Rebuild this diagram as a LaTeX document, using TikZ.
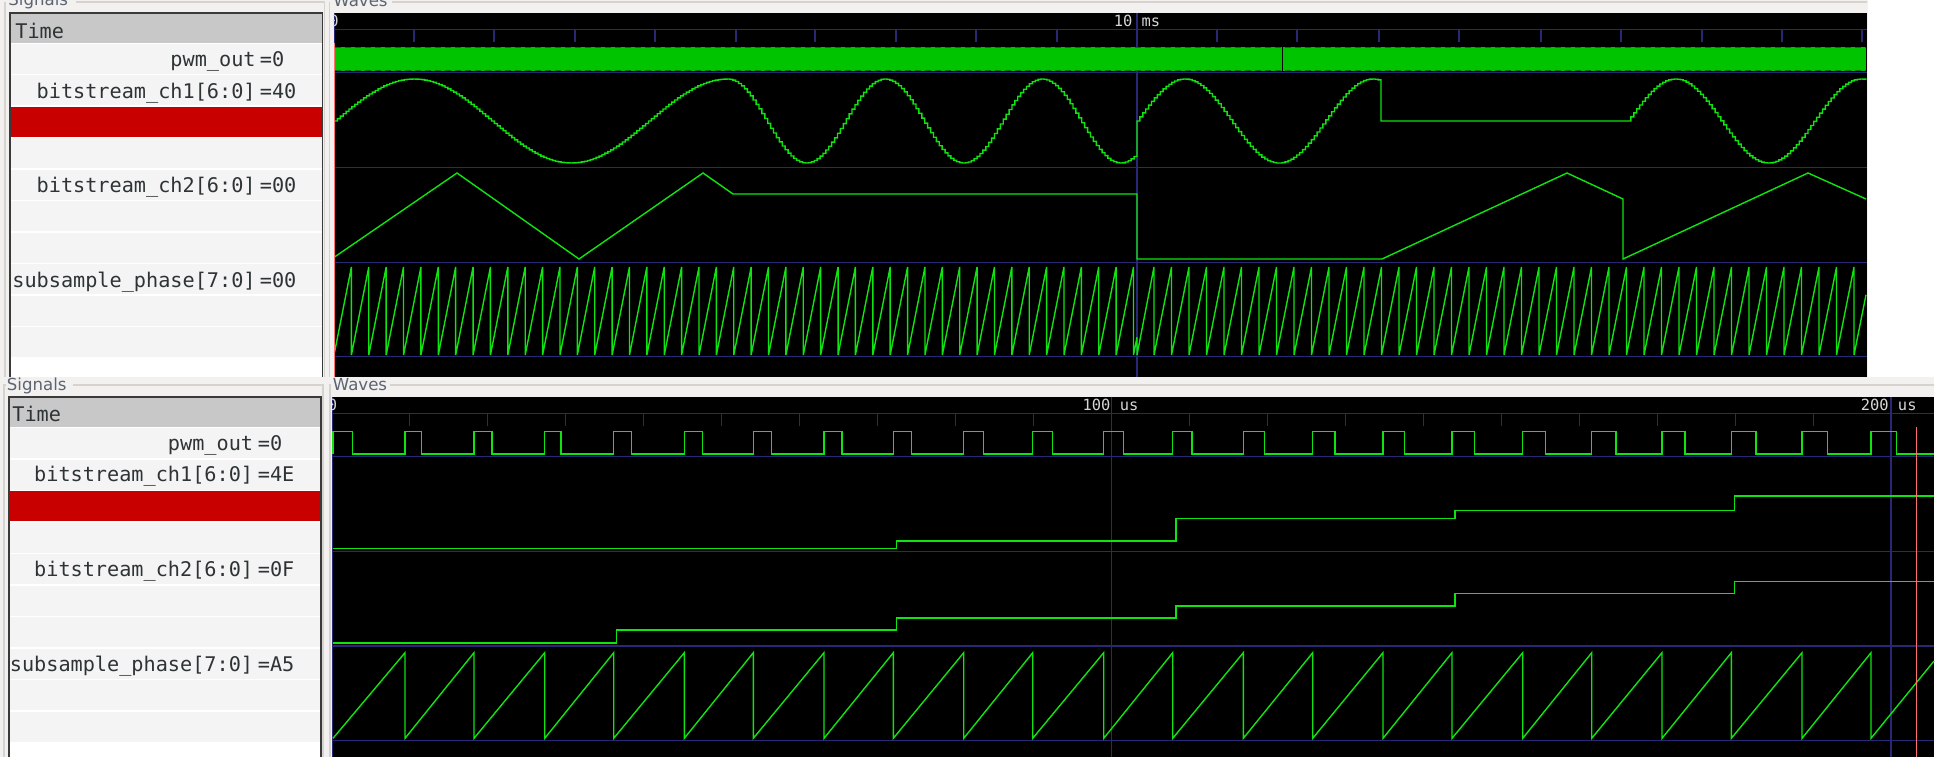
\documentclass[tikz,border=0pt]{standalone}
\usepackage{fontspec}
\newfontfamily\monof{DejaVu Sans Mono}
\newfontfamily\sansf{DejaVu Sans}
\definecolor{gtkbg}{RGB}{242,241,240}
\definecolor{frameline}{RGB}{214,210,206}
\definecolor{listrow}{RGB}{244,244,244}
\definecolor{listhead}{RGB}{200,200,200}
\definecolor{listborder}{RGB}{58,58,58}
\definecolor{selred}{RGB}{200,0,0}
\definecolor{txt}{RGB}{46,52,54}
\definecolor{hdrcol}{RGB}{92,100,114}
\definecolor{gridc}{RGB}{40,40,118}
\definecolor{tracec}{RGB}{16,228,16}
\definecolor{pwmfill}{RGB}{0,196,0}
\definecolor{pwmedge}{RGB}{0,120,0}
\definecolor{markerc}{RGB}{255,112,112}
\definecolor{timec}{RGB}{214,214,214}
\begin{document}
\begin{tikzpicture}[x=0.5pt,y=-0.5pt,
  sigtxt/.style={font=\monof\fontsize{10.1}{12}\selectfont, text=txt, inner sep=0pt},
  timetxt/.style={font=\monof\fontsize{7.7}{9}\selectfont, text=timec, inner sep=0pt},
  hdr/.style={font=\sansf\fontsize{8.3}{10}\selectfont, text=hdrcol, inner sep=0pt},
  gridline/.style={draw=gridc, line width=0.55pt},
  frm/.style={draw=frameline, line width=0.6pt},
  trace/.style={draw=tracec, line width=0.7pt, line join=miter},
  markerline/.style={draw=markerc, line width=0.55pt},
  lborder/.style={draw=listborder, line width=0.8pt}]
\useasboundingbox (0,0) rectangle (1938,757);
\fill[white] (0,0) rectangle (1938,757);
% ---------------- backgrounds of the two screenshots
\fill[gtkbg] (0,0) rectangle (1868,377);
\fill[gtkbg] (0,377) rectangle (1934,757);

% ================= TOP SCREENSHOT =================
% frames
\draw[frm] (5,2) -- (5,377);
\draw[frm] (76,2) -- (324.7,2) -- (324.7,377);
\draw[frm] (329.3,377) -- (329.3,2);
\draw[frm] (392,2) -- (1867,2);
\node[hdr, anchor=base west] (sigT) at (8,5.5) {Signals};
\node[hdr, anchor=base west] (wavT) at (333,6) {Waves};
% signal list
\fill[white] (10,12.7) rectangle (322.3,377);
\fill[listhead] (10,12.7) rectangle (322.3,43);
\foreach \i in {0,...,9} \fill[listrow] (10,43+31.5*\i+0.8) rectangle (322.3,43+31.5*\i+30.7);
\fill[selred] (10,106.7) rectangle (322.3,136.8);
\draw[lborder] (10,377) -- (10,12.7) -- (322.3,12.7) -- (322.3,377);
\node[sigtxt, anchor=base west] (tTime) at (15,38.3) {Time};
\node[sigtxt, anchor=base east] (tN1) at (256,66.7) {pwm\_out};
\node[sigtxt, anchor=base west] (tV1) at (259.5,66.7) {=0};
\node[sigtxt, anchor=base east] (tN2) at (256,98.2) {bitstream\_ch1[6:0]};
\node[sigtxt, anchor=base west] (tV2) at (259.5,98.2) {=40};
\node[sigtxt, anchor=base east] (tN3) at (256,192.7) {bitstream\_ch2[6:0]};
\node[sigtxt, anchor=base west] (tV3) at (259.5,192.7) {=00};
\node[sigtxt, anchor=base east] (tN4) at (256,287.2) {subsample\_phase[7:0]};
\node[sigtxt, anchor=base west] (tV4) at (259.5,287.2) {=00};
% wave area
\fill[black] (333.7,12.7) rectangle (1867,377);
\foreach \yy in {29.3,72.7,167.7,262.3,356.7} \draw[gridline] (333.7,\yy) -- (1867,\yy);
\foreach \t in {414,494,575,655,736,815,896,976,1057,1217,1297,1379,1459,1541,1621,1702,1782,1862}
  \draw[gridline] (\t,29.3) -- (\t,42.3);
\draw[gridline] (1137,12.7) -- (1137,377);
\draw[gridline] (334.4,12.7) -- (334.4,43);
\begin{scope}
  \clip (333.7,12.7) rectangle (1867,377);
  \node[timetxt, anchor=base] (tT0) at (334,26.7) {0};
\end{scope}
\node[timetxt, anchor=base] (tT10) at (1137,26.7) {10 ms};
% pwm_out (dense)
\fill[pwmfill] (334.5,46.7) rectangle (1866,70.7);
\draw[pwmedge, line width=0.6pt, dash pattern=on 3pt off 2pt] (334.5,47.3) -- (1866,47.3);
\draw[pwmedge, line width=0.6pt, dash pattern=on 3pt off 2pt] (334.5,70.1) -- (1866,70.1);
\draw[black, line width=0.6pt] (1282.6,46.7) -- (1282.6,70.7);
% bitstream_ch1 (sine)
\draw[trace]
  plot[const plot, domain=334.5:727, samples=136] (\x,{121-42*sin((\x-334.5)/392.5*450)})
  -- plot[const plot, domain=727:1137, samples=142] (\x,{121-42*sin(450+(\x-727)/78.6*180)})
  -- (1137,121)
  -- plot[const plot, domain=1137:1381, samples=85] (\x,{121-42*sin((\x-1137)/94*180)})
  -- (1381,121) -- (1628,121)
  -- plot[const plot, domain=1628:1866, samples=83] (\x,{121-42*sin((\x-1628)/93*180)});
% bitstream_ch2 (triangle)
\draw[trace] (334.5,257) -- (457,173) -- (579,259) -- (703,173) -- (733,194) -- (1137,194)
  -- (1137,259) -- (1382,259) -- (1567,173) -- (1623,199) -- (1623,259) -- (1808,173) -- (1866,199);
% subsample_phase (sawtooth)
\draw[trace] (334.5,352.6)
  \foreach \k in {0,...,45} { -- ({351.4+17.38*\k},267) -- ({351.4+17.38*\k},355) }
  -- (1137,337.3) -- (1137,355)
  \foreach \k in {0,...,40} { -- ({1154+17.5*\k},267) -- ({1154+17.5*\k},355) }
  -- (1866,294.7);
\draw[markerline] (334.4,43) -- (334.4,377);

% ================= BOTTOM SCREENSHOT =================
\draw[frm] (4,757) -- (4,385) -- (5.5,385);
\draw[frm] (73,385) -- (323,385) -- (323,757);
\draw[frm] (330,757) -- (330,385) -- (331,385);
\draw[frm] (390,385) -- (1934,385);
\node[hdr, anchor=base west] (sigB) at (6.5,390) {Signals};
\node[hdr, anchor=base west] (wavB) at (332.5,390) {Waves};
% signal list
\fill[white] (9,396.7) rectangle (321,757);
\fill[listhead] (9,396.7) rectangle (321,427.3);
\foreach \i in {0,...,9} \fill[listrow] (9,427.3+31.5*\i+0.8) rectangle (321,427.3+31.5*\i+30.7);
\fill[selred] (9,491) rectangle (321,521);
\draw[lborder] (9,757) -- (9,396.7) -- (321,396.7) -- (321,757);
\node[sigtxt, anchor=base west] (bTime) at (12,421.7) {Time};
\node[sigtxt, anchor=base east] (bN1) at (253.5,450) {pwm\_out};
\node[sigtxt, anchor=base west] (bV1) at (257.5,450) {=0};
\node[sigtxt, anchor=base east] (bN2) at (253.5,481.7) {bitstream\_ch1[6:0]};
\node[sigtxt, anchor=base west] (bV2) at (257.5,481.7) {=4E};
\node[sigtxt, anchor=base east] (bN3) at (253.5,576.7) {bitstream\_ch2[6:0]};
\node[sigtxt, anchor=base west] (bV3) at (257.5,576.7) {=0F};
\node[sigtxt, anchor=base east] (bN4) at (253.5,671.7) {subsample\_phase[7:0]};
\node[sigtxt, anchor=base west] (bV4) at (257.5,671.7) {=A5};
% wave area
\fill[black] (332.3,396.7) rectangle (1934,757);
\foreach \yy in {413.3,456.8,551.5,646,740.7} \draw[gridline] (332.3,\yy) -- (1934,\yy);
\foreach \k in {1,...,9,11,12,...,19} \draw[gridline] (331.5+78*\k,413.3) -- (331.5+78*\k,426);
\foreach \xx in {332.8,1111.3,1891} \draw[gridline] (\xx,396.7) -- (\xx,757);
\begin{scope}
  \clip (332.3,396.7) rectangle (1934,757);
  \node[timetxt, anchor=base] (bT0) at (332.5,410) {0};
\end{scope}
\node[timetxt, anchor=base] (bT100) at (1110.5,410) {100 us};
\node[timetxt, anchor=base] (bT200) at (1888.7,410) {200 us};
% pwm_out
\draw[trace] (333,454) -- (333,431.7) -- (352.3,431.7) -- (352.3,454)
  \foreach \r/\f in {405/421.7,474/492,544.7/561,613.7/631.7,684.3/702.3,753.3/771.7,824/842,893.3/911.3,
    963.7/983.3,1032.7/1052.3,1103.7/1123.3,1172.7/1192,1243.3/1264.3,1312.7/1335,1383/1404.3,1452/1474.3,
    1522.7/1545.3,1591.7/1616,1662/1685,1731.3/1756,1802/1827.7,1871/1896.7}
  { -- (\r,454) -- (\r,431.7) -- (\f,431.7) -- (\f,454) } -- (1934,454);
% bitstream_ch1
\draw[trace] (333,548.7) -- (896.7,548.7) -- (896.7,541) -- (1176,541) -- (1176,518.3) -- (1455,518.3)
  -- (1455,510.7) -- (1734.7,510.7) -- (1734.7,496) -- (1934,496);
% bitstream_ch2
\draw[trace] (333,643) -- (616.7,643) -- (616.7,630) -- (896.7,630) -- (896.7,618) -- (1176,618)
  -- (1176,606) -- (1455,606) -- (1455,593.7) -- (1734.7,593.7) -- (1734.7,581.7) -- (1934,581.7);
% subsample_phase
\draw[trace] (333,738.3)
  \foreach \r in {405,474,544.7,613.7,684.3,753.3,824,893.3,963.7,1032.7,1103.7,1172.7,1243.3,1312.7,1383,
    1452,1522.7,1591.7,1662,1731.3,1802,1871}
  { -- (\r,652.7) -- (\r,738.3) } -- (1934,661);
\draw[markerline] (1916.3,426.7) -- (1916.3,757);
\end{tikzpicture}
\end{document}
